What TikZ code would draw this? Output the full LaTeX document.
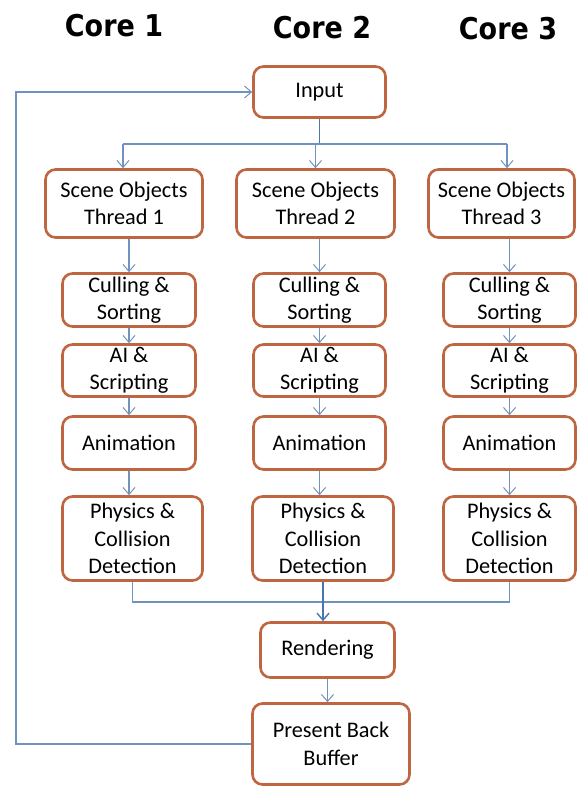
\documentclass[tikz,border=0pt]{standalone}
\usepackage{fontspec}
\setmainfont{Carlito}
\newfontfamily\corefont[FakeStretch=0.9]{DejaVu Sans}
\usetikzlibrary{arrows.meta}
\definecolor{boxedge}{RGB}{190,102,66}
\definecolor{flow}{RGB}{112,146,190}
\definecolor{flowdark}{RGB}{72,118,178}
\tikzset{
  stage/.style={draw=boxedge, line width=2.6pt, rounded corners=10pt, fill=white,
    align=center, inner sep=0pt, text=black,
    font=\fontsize{22.3}{27.5}\selectfont},
  flowline/.style={draw=flow, line width=1.1pt},
  flowarrow/.style={flowline, -{Straight Barb[length=7pt,width=12pt,line width=1pt]}},
  flowstem/.style={draw=flowdark, line width=1.6pt},
  flowstemarrow/.style={flowstem, -{Straight Barb[length=7pt,width=12pt,line width=1.4pt]}},
  coretitle/.style={font=\corefont\bfseries\fontsize{30}{36}\selectfont, text=black}
}
\begin{document}
\begin{tikzpicture}[x=1pt,y=-1pt]
\useasboundingbox (0,0) rectangle (579,789);

% core headings
\node[coretitle] (core1) at (114,26) {Core 1};
\node[coretitle] (core2) at (322,28) {Core 2};
\node[coretitle] (core3) at (508,29) {Core 3};

% input stage
\node[stage, minimum width=132pt, minimum height=51pt] (in) at (319.5,92) {Input};

% per-thread pipelines
\node[stage, minimum width=157pt, minimum height=68pt] (s1) at (124,203.5) {Scene Objects\\Thread 1};
\node[stage, minimum width=158pt, minimum height=68pt] (s2) at (315.5,203.5) {Scene Objects\\Thread 2};
\node[stage, minimum width=146pt, minimum height=68pt] (s3) at (501.5,203.5) {Scene Objects\\Thread 3};

\node[stage, minimum width=133pt, minimum height=53pt] (c1) at (129,300) {Culling \&\\Sorting};
\node[stage, minimum width=132pt, minimum height=53pt] (c2) at (319.5,300) {Culling \&\\Sorting};
\node[stage, minimum width=132pt, minimum height=53pt] (c3) at (509.5,300) {Culling \&\\Sorting};

\node[stage, minimum width=133pt, minimum height=52pt] (a1) at (129,370.5) {AI \&\\Scripting};
\node[stage, minimum width=132pt, minimum height=52pt] (a2) at (319.5,370.5) {AI \&\\Scripting};
\node[stage, minimum width=132pt, minimum height=52pt] (a3) at (509.5,370.5) {AI \&\\Scripting};

\node[stage, minimum width=133pt, minimum height=53pt] (m1) at (129,443) {Animation};
\node[stage, minimum width=132pt, minimum height=53pt] (m2) at (319.5,443) {Animation};
\node[stage, minimum width=132pt, minimum height=53pt] (m3) at (509.5,443) {Animation};

\node[stage, minimum width=140pt, minimum height=84pt] (p1) at (132.5,538.5) {Physics \&\\Collision\\Detection};
\node[stage, minimum width=141pt, minimum height=84pt] (p2) at (323,538.5) {Physics \&\\Collision\\Detection};
\node[stage, minimum width=132pt, minimum height=84pt] (p3) at (509.5,538.5) {Physics \&\\Collision\\Detection};

% shared tail
\node[stage, minimum width=134pt, minimum height=55pt] (r) at (327.5,650) {Rendering};
\node[stage, minimum width=157pt, minimum height=81pt] (b) at (331,744) {Present Back\\Buffer};

% fan-out from input
\coordinate (split) at (320,144);
\draw[flowstem] (in.south) -- (in.south |- split);
\draw[flowline] ([xshift=-1pt]s1.north |- split) -- ([xshift=5.5pt]s3.north |- split);
\draw[flowarrow] ([xshift=-1pt]s1.north |- split) -- ([xshift=-1pt]s1.north);
\draw[flowarrow] (s2.north |- split) -- (s2.north);
\draw[flowarrow] ([xshift=5.5pt]s3.north |- split) -- ([xshift=5.5pt]s3.north);

% pipeline steps
\foreach \k in {1,2,3}{
  \draw[flowarrow] (s\k.south -| c\k.north) -- (c\k.north);
  \draw[flowarrow] (c\k.south) -- (a\k.north);
  \draw[flowarrow] (a\k.south) -- (m\k.north);
  \draw[flowarrow] (m\k.south) -- (m\k.south |- p\k.north);
}

% join into rendering
\coordinate (join) at (324,602);
\draw[flowline] (p1.south) |- (join);
\draw[flowline] (p3.south) |- (join);
\draw[flowstemarrow] (p2.south) -- (p2.south |- r.north);
\draw[flowarrow] (r.south) -- (r.south |- b.north);

% frame loop back to input
\coordinate (loop) at (16,744);
\draw[flowarrow] (b.west) -- (loop) |- (in.west);
\end{tikzpicture}
\end{document}
